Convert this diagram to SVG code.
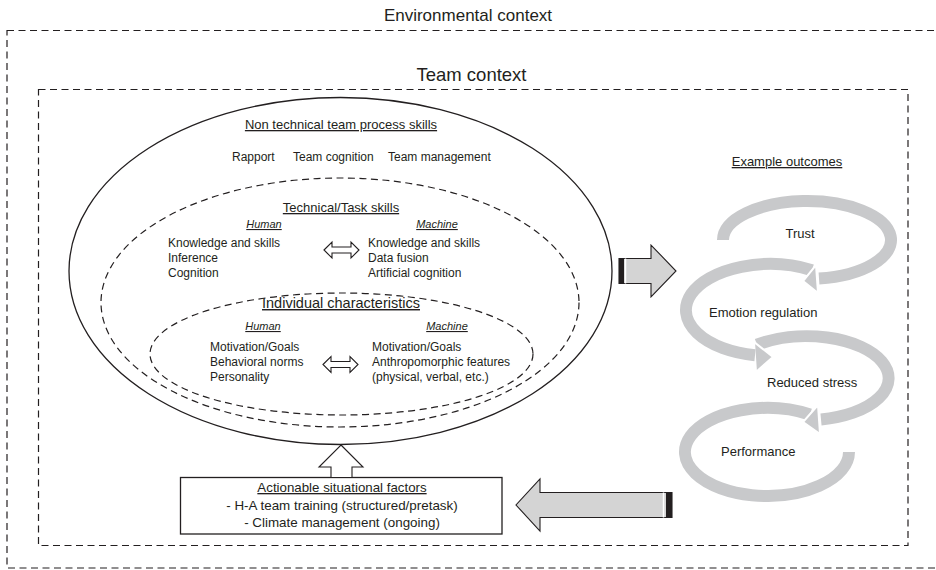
<svg xmlns="http://www.w3.org/2000/svg" width="936" height="570" viewBox="0 0 936 570">
  <style>
    text { font-family: "Liberation Sans", Arial, sans-serif; fill: #231f20; }
    .ctx { font-size: 17px; text-anchor: middle; }
    .h1 { font-size: 13px; text-anchor: middle; text-decoration: underline; }
    .hb { font-size: 14.5px; text-anchor: middle; text-decoration: underline; }
    .sub { font-size: 11px; font-style: italic; text-anchor: middle; text-decoration: underline; }
    .item { font-size: 12px; }
    .out { font-size: 13px; }
    .dash { fill: none; stroke: #231f20; stroke-width: 1.2; stroke-dasharray: 7 4.5; }
    .solid { fill: none; stroke: #231f20; stroke-width: 1.3; }
    .loop { fill: none; stroke: #c8c9cb; stroke-width: 12; stroke-linecap: butt; }
    .loophead { fill: #c8c9cb; stroke: #fff; stroke-width: 2; stroke-linejoin: miter; }
    .big { fill: #d4d4d4; stroke: #231f20; stroke-width: 1.1; }
    .hollow { fill: #fff; stroke: #231f20; stroke-width: 1.1; }
  </style>

  <!-- Environmental context frame -->
  <g id="environmental-context">
    <rect class="dash" x="7" y="30.5" width="960" height="537.5"/>
    <text class="ctx" x="468" y="21">Environmental context</text>
  </g>

  <!-- Team context frame -->
  <g id="team-context">
    <rect class="dash" x="38.5" y="89.5" width="869.5" height="456"/>
    <text class="ctx" x="471.5" y="81" style="font-size:18.5px">Team context</text>
  </g>

  <!-- Non technical team process skills (outer solid ellipse) -->
  <g id="team-process-skills">
    <ellipse class="solid" cx="340.5" cy="271" rx="271.5" ry="173.5"/>
    <text class="h1" x="341" y="129">Non technical team process skills</text>
    <text class="item" x="232" y="161">Rapport</text>
    <text class="item" x="293" y="161">Team cognition</text>
    <text class="item" x="388" y="161">Team management</text>
  </g>

  <!-- Technical / task skills (dashed ellipse) -->
  <g id="task-skills">
    <ellipse class="dash" cx="340" cy="302.5" rx="239" ry="124.5"/>
    <text class="h1" x="341" y="212">Technical/Task skills</text>
    <text class="sub" x="264" y="228">Human</text>
    <text class="sub" x="437" y="228">Machine</text>
    <text class="item" x="168" y="247">Knowledge and skills</text>
    <text class="item" x="168" y="262">Inference</text>
    <text class="item" x="168" y="277">Cognition</text>
    <text class="item" x="368" y="247">Knowledge and skills</text>
    <text class="item" x="368" y="262">Data fusion</text>
    <text class="item" x="368" y="277">Artificial cognition</text>
  </g>

  <!-- Individual characteristics (inner dashed ellipse) -->
  <g id="individual-characteristics">
    <ellipse class="dash" cx="341.5" cy="354" rx="191.5" ry="61"/>
    <text class="hb" x="341" y="308">Individual characteristics</text>
    <text class="sub" x="263" y="330">Human</text>
    <text class="sub" x="447" y="330">Machine</text>
    <text class="item" x="210" y="351">Motivation/Goals</text>
    <text class="item" x="210" y="366">Behavioral norms</text>
    <text class="item" x="210" y="381">Personality</text>
    <text class="item" x="372" y="351">Motivation/Goals</text>
    <text class="item" x="372" y="366">Anthropomorphic features</text>
    <text class="item" x="372" y="381">(physical, verbal, etc.)</text>
  </g>

  <!-- Actionable situational factors box -->
  <g id="situational-factors">
    <rect class="solid" x="180.5" y="477.5" width="321.5" height="56.5"/>
    <text class="h1" x="342" y="492" style="font-size:13.3px">Actionable situational factors</text>
    <text class="item" x="342" y="510" style="text-anchor:middle;font-size:13.4px">- H-A team training (structured/pretask)</text>
    <text class="item" x="342" y="527" style="text-anchor:middle;font-size:13.4px">- Climate management (ongoing)</text>
  </g>

  <!-- Example outcomes cycle -->
  <g id="example-outcomes">
    <text class="out" x="787" y="166" style="text-anchor:middle;text-decoration:underline">Example outcomes</text>
    <path class="loop" d="M810,414.5 A82,44 0 1 0 849,452"/>
    <polygon class="loophead" points="818,405 820,434 803,422"/>
    <path class="loop" d="M757,344.7 A82,42 0 1 1 821,419.5"/>
    <polygon class="loophead" points="754,342 756,372 773,357"/>
    <path class="loop" d="M812,270.2 A84,46 0 1 0 755,355.3"/>
    <polygon class="loophead" points="816,265 818,293 803,281"/>
    <path class="loop" d="M723,240 A84,39 0 1 1 819,278.6"/>
    <text class="out" x="800" y="238" style="text-anchor:middle">Trust</text>
    <text class="out" x="709" y="317">Emotion regulation</text>
    <text class="out" x="767" y="387">Reduced stress</text>
    <text class="out" x="721" y="456">Performance</text>
  </g>

  <!-- Connectors -->
  <g id="connectors">
    <!-- skills feed the outcomes -->
    <polygon class="big" points="619,258.5 651,258.5 651,245 676,271 651,297 651,283.5 619,283.5"/>
    <rect x="619" y="258.5" width="5" height="25" fill="#231f20"/>
    <line x1="625.5" y1="258.5" x2="625.5" y2="283.5" stroke="#fff" stroke-width="1.5"/>
    <!-- outcomes feed back to the situational factors -->
    <polygon class="big" points="672,492.5 540,492.5 540,479 516,505 540,531 540,517.5 672,517.5"/>
    <rect x="666" y="492.5" width="6" height="25" fill="#231f20"/>
    <line x1="663.5" y1="492.5" x2="663.5" y2="517.5" stroke="#fff" stroke-width="1.5"/>
    <!-- factors act on the team -->
    <polygon class="hollow" points="341,445 363,467 352,467 352,477.5 331,477.5 331,467 319,467"/>
    <!-- human / machine correspondence -->
    <polygon class="hollow" points="324,250 332,242 332,247 351,247 351,242 359,250 351,258 351,253 332,253 332,258"/>
    <polygon class="hollow" points="323,364.5 331,356.5 331,361.5 350,361.5 350,356.5 358,364.5 350,372.5 350,367.5 331,367.5 331,372.5"/>
  </g>
</svg>
